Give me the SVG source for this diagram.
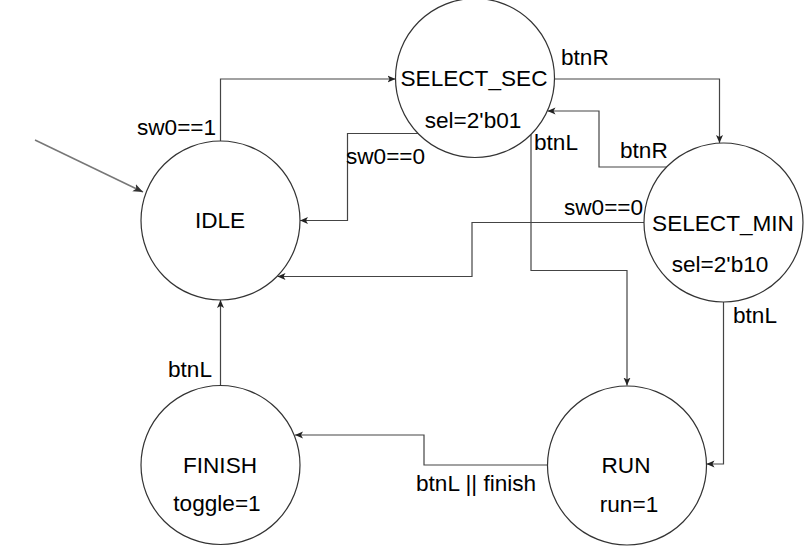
<svg xmlns="http://www.w3.org/2000/svg" width="811" height="552" viewBox="0 0 811 552">
<style>
  .state { fill: #ffffff; stroke: #333333; stroke-width: 1.2; }
  .t { font-family: "Liberation Sans", Arial, sans-serif; font-size: 22.6px; fill: #000000; }
  .c { text-anchor: middle; }
  .edge { fill: none; stroke: #444444; stroke-width: 1.2; }
  .init { fill: none; stroke: #777777; stroke-width: 1.5; }
</style>
<defs>
  <marker id="arr" viewBox="0 0 8 8" refX="8" refY="4" markerWidth="8" markerHeight="8" markerUnits="userSpaceOnUse" orient="auto">
    <path d="M0,0.5 L8,4 L0,7.5 L2,4 z" fill="#222222"/>
  </marker>
  <marker id="arrg" viewBox="0 0 10 10" refX="10" refY="5" markerWidth="10" markerHeight="10" markerUnits="userSpaceOnUse" orient="auto">
    <path d="M0,1 L10,5 L0,9 L2.5,5 z" fill="#333333"/>
  </marker>
</defs>
<rect width="811" height="552" fill="#ffffff"/>
<g id="connectors">
  <path class="init" d="M35,140 L143,192" marker-end="url(#arrg)"/>
  <path class="edge" d="M220.5,141 V79 H395.5" marker-end="url(#arr)"/>
  <path class="edge" d="M554.5,79 H719.5 V143" marker-end="url(#arr)"/>
  <path class="edge" d="M667,167 H599 V111 H547.5" marker-end="url(#arr)"/>
  <path class="edge" d="M418,133.5 H347.5 V220.5 H300" marker-end="url(#arr)"/>
  <path class="edge" d="M644,222.5 H472 V276.5 H277.5" marker-end="url(#arr)"/>
  <path class="edge" d="M531,134.5 V270.5 H627 V385.5" marker-end="url(#arr)"/>
  <path class="edge" d="M723.5,302 V464 H706.5" marker-end="url(#arr)"/>
  <path class="edge" d="M547.5,465 H424 V435 H295" marker-end="url(#arr)"/>
  <path class="edge" d="M220.5,385.5 V300" marker-end="url(#arr)"/>
  <text class="t" x="137" y="135">sw0==1</text>
  <text class="t" x="561" y="65">btnR</text>
  <text class="t" x="620" y="158">btnR</text>
  <text class="t" x="534" y="150">btnL</text>
  <text class="t" x="346" y="164">sw0==0</text>
  <text class="t" x="564" y="215">sw0==0</text>
  <text class="t" x="733" y="323">btnL</text>
  <text class="t" x="168" y="377">btnL</text>
  <text class="t" x="416" y="491">btnL || finish</text>
</g>
<g id="SELECT_SEC">
  <circle class="state" cx="475" cy="78" r="79.5"/>
  <text class="t c" x="474" y="86">SELECT_SEC</text>
  <text class="t c" x="473" y="128">sel=2'b01</text>
</g>
<g id="IDLE">
  <circle class="state" cx="220.5" cy="220.5" r="79.5"/>
  <text class="t c" x="220" y="228">IDLE</text>
</g>
<g id="SELECT_MIN">
  <circle class="state" cx="723.5" cy="222.5" r="79.5"/>
  <text class="t c" x="723" y="231">SELECT_MIN</text>
  <text class="t c" x="720" y="272">sel=2'b10</text>
</g>
<g id="FINISH">
  <circle class="state" cx="220.5" cy="465" r="79.5"/>
  <text class="t c" x="220" y="473">FINISH</text>
  <text class="t c" x="217" y="511">toggle=1</text>
</g>
<g id="RUN">
  <circle class="state" cx="627" cy="465.5" r="79.5"/>
  <text class="t c" x="626" y="473">RUN</text>
  <text class="t c" x="629" y="512">run=1</text>
</g>
</svg>
